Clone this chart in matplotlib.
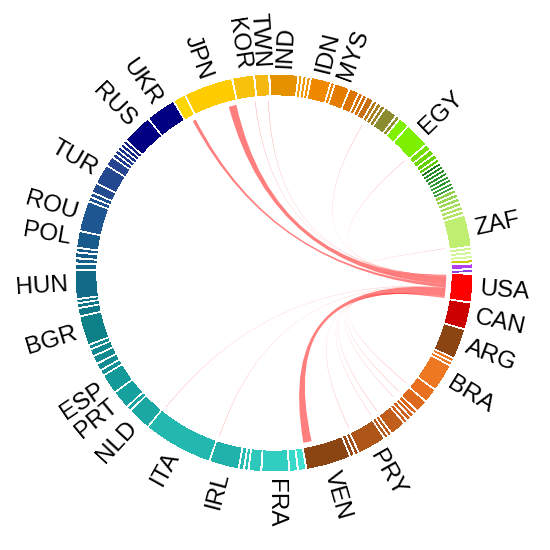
import numpy as np
import matplotlib
matplotlib.use("Agg")
import matplotlib.pyplot as plt
from matplotlib.patches import Wedge, PathPatch
from matplotlib.path import Path

# ring segments, clockwise from USA; lowercase ids are small unlabelled countries
countries = [
    "USA", "CAN", "ARG", "a1", "a2", "BRA", "a3", "a4", "a5", "a6", "a7", "a8",
    "a9", "a10", "a11", "PRY", "a12", "a13", "VEN",
    "e1", "e2", "FRA", "e3", "e4", "e5", "IRL", "ITA", "NLD", "e6", "PRT", "ESP",
    "e7", "e8", "e9", "e10", "e11", "BGR", "e12", "e13", "e14", "HUN",
    "e15", "e16", "e17", "e18", "POL", "ROU", "e19", "e20", "e21", "TUR", "e22",
    "e23", "e24", "e25", "e26", "e27", "RUS", "UKR",
    "g1", "JPN", "KOR", "TWN", "IND", "s1", "s2", "s3", "IDN", "s4", "MYS",
    "s5", "s6", "s7", "s8", "s9", "s10", "s11", "s12", "s13", "s14", "EGY",
    "s15", "s16", "s17", "s18", "d1", "d2", "d3", "d4", "d5", "d6", "d7", "d8",
    "l1", "l2", "l3", "l4", "l5", "l6", "ZAF", "z1", "z2", "z3", "z4", "z5", "z6",
]
volumes = [
    7.5, 7.0, 8.0, 0.25, 0.25, 7.3, 3.4, 2.8, 0.4, 0.35, 0.4, 0.3,
    3.8, 0.3, 0.3, 7.6, 0.4, 0.5, 12.3,
    1.5, 1.6, 7.2, 2.8, 0.4, 0.6, 7.8, 19.5, 6.0, 0.5, 4.5, 5.0,
    0.8, 1.2, 1.5, 1.2, 0.5, 7.7, 1.5, 0.5, 0.3, 7.5,
    1.0, 0.6, 0.8, 0.4, 4.0, 8.0, 0.5, 0.5, 2.0, 5.0, 2.0,
    0.4, 0.3, 0.3, 0.3, 0.3, 8.0, 8.0,
    2.8, 13.5, 5.5, 3.5, 7.5, 0.3, 0.3, 0.3, 5.0, 0.3, 3.6,
    2.0, 0.4, 0.4, 1.2, 0.4, 0.4, 0.4, 3.0, 0.4, 2.3, 6.5,
    1.0, 0.8, 0.6, 0.3, 0.2, 0.2, 0.2, 0.2, 0.2, 0.2, 0.2, 0.2,
    0.4, 0.4, 0.4, 0.4, 0.4, 0.4, 8.5, 0.3, 0.3, 0.3, 0.3, 0.8, 0.3,
]
colors = [
    "#FF0000", "#CC0000", "#8B4513", "#EE7722", "#EE7722", "#EE7722", "#E8701E",
    "#DD6A1C", "#D8661C", "#D4641C", "#D0621C", "#CC601C", "#C25E1C", "#BC5C1C",
    "#B85A1C", "#AE561A", "#9E4E18", "#964A18", "#8B4513",
    "#40E0D0", "#38D8CA", "#30CEC0", "#2EC8BA", "#2AC0B4", "#28BCB0", "#20B2AA",
    "#22B8B0", "#1CA8A2", "#1AA4A0", "#16A09E", "#14999A",
    "#138F96", "#128C94", "#118A92", "#108890", "#10868E", "#0E8088", "#0E7888",
    "#0F7488", "#0F7288", "#106A88",
    "#126488", "#135F88", "#145C88", "#155A88", "#185A8C", "#1D5690", "#1F5290",
    "#205090", "#224C8E", "#244890", "#264490",
    "#203A8C", "#1C3488", "#182E88", "#142888", "#102084", "#000080", "#000080",
    "#FFD700", "#FFCC00", "#F8C20C", "#F4B810", "#E69200", "#F0A000", "#F09800",
    "#F09400", "#F08800", "#EC8400", "#E47C00",
    "#DC7400", "#D87000", "#D46E04", "#C87010", "#B87818", "#A8801E", "#9A8424",
    "#8B8B30", "#909030", "#80F000", "#7CF000",
    "#74E000", "#6ED800", "#68D000", "#60C800", "#1E7A1E", "#228B22", "#248F24",
    "#2A922A", "#2E962E", "#339933", "#3A9E3A", "#40A040",
    "#90D048", "#98D450", "#A0D858", "#A8DC60", "#B0E068", "#B8E46C", "#C0EE70",
    "#D0F490", "#D4F698", "#D8F8A0", "#CCCC00", "#B040F0", "#9040E0",
]

# exports from USA drawn as ribbons
source = "USA"
flow_targets = ["ZAF", "EGY", "s9", "TWN", "KOR", "JPN", "g1", "ITA", "IRL",
                "VEN", "PRY", "a11", "a9", "a6", "a4", "a3"]
flow_values = [0.08, 0.1, 0.1, 0.12, 0.12, 2.6, 1.1, 0.1, 0.1,
               2.8, 0.1, 0.08, 0.1, 0.08, 0.1, 0.1]

start_angle = 0.6   # degrees clockwise from 3 o'clock
r_out, ring_w, r_chord = 1.0, 0.1, 0.87

gap = (360.0 - sum(volumes)) / len(volumes)
seg_start, seg_end = {}, {}
pos = start_angle
for name, v in zip(countries, volumes):
    seg_start[name] = pos
    seg_end[name] = pos + v
    pos += v + gap


def pt(theta, r):
    a = np.deg2rad(-theta)
    return (r * np.cos(a), r * np.sin(a))


def ribbon(s0, s1, t0, t1):
    verts, codes = [], []
    src = [pt(t, r_chord) for t in np.linspace(s0, s1, 12)]
    verts += src
    codes += [Path.MOVETO] + [Path.LINETO] * (len(src) - 1)
    verts += [(0, 0), pt(t0, r_chord)]
    codes += [Path.CURVE3] * 2
    tgt = [pt(t, r_chord) for t in np.linspace(t0, t1, 12)][1:]
    verts += tgt
    codes += [Path.LINETO] * len(tgt)
    verts += [(0, 0), pt(s0, r_chord), (0, 0)]
    codes += [Path.CURVE3, Path.CURVE3, Path.CLOSEPOLY]
    return Path(verts, codes)


fig = plt.figure(figsize=(5.5, 5.5), dpi=100)
ax = fig.add_axes([0, 0, 1, 1])

# outer ring
for name, c in zip(countries, colors):
    ax.add_patch(Wedge((0, 0), r_out, -seg_end[name], -seg_start[name],
                       width=ring_w, facecolor=c, lw=0, antialiased=False))

# ribbons: stacked along the source arc, placed at the end of each target arc
s = seg_start[source]
for tgt, v in zip(flow_targets, flow_values):
    t1 = seg_end[tgt]
    path = ribbon(s, s + v, t1 - v, t1)
    ax.add_patch(PathPatch(path, facecolor="red", alpha=0.5, lw=0))
    s += v

# labels for the named countries
for name in countries:
    if not name.isupper():
        continue
    mid = (seg_start[name] + seg_end[name]) / 2
    phi = (-mid + 180) % 360 - 180
    x, y = pt(mid, 1.04)
    if abs(phi) <= 90:
        rot, ha = phi, "left"
    else:
        rot, ha = phi + 180 if phi < 0 else phi - 180, "right"
    ax.text(x, y, name, rotation=rot, rotation_mode="anchor", ha=ha, va="center",
            fontsize=17.5, family="Liberation Sans")

ax.set_xlim(-1.384, 1.394)
ax.set_ylim(-1.399, 1.379)
ax.set_aspect("equal")
ax.axis("off")
fig.savefig("out.png", dpi=100)
